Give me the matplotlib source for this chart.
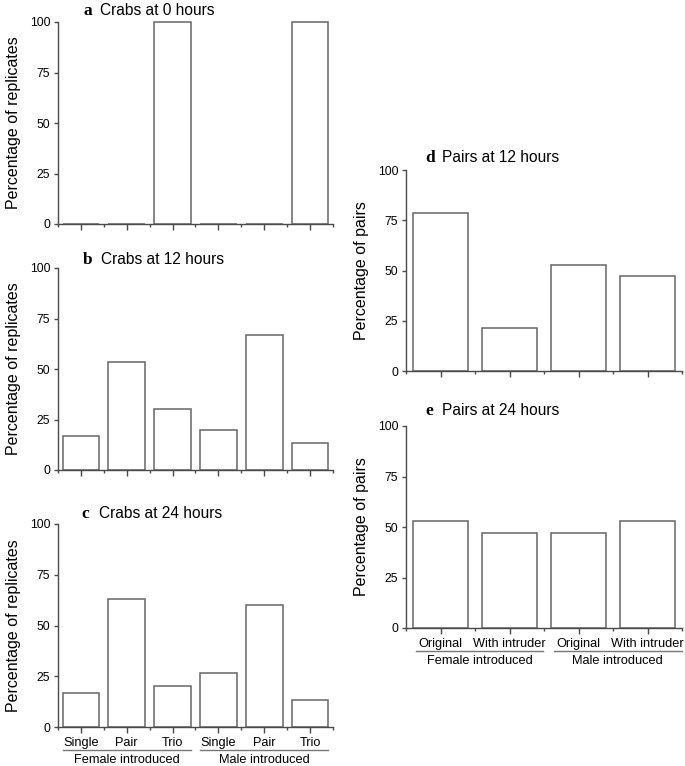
import matplotlib
matplotlib.use("Agg")
import matplotlib.pyplot as plt
from matplotlib.ticker import FixedLocator

plt.rcParams['font.family'] = ['Liberation Sans', 'DejaVu Sans']

# ---- data ----
crab_cats = ["Single", "Pair", "Trio", "Single", "Pair", "Trio"]
pair_cats = ["Original", "With intruder", "Original", "With intruder"]
groups = ["Female introduced", "Male introduced"]
crabs_0h = [0, 0, 100, 0, 0, 100]
crabs_12h = [16.7, 53.3, 30.0, 20.0, 66.7, 13.3]
crabs_24h = [16.7, 63.3, 20.0, 26.7, 60.0, 13.3]
pairs_12h = [78.5, 21.5, 52.5, 47.5]
pairs_24h = [53.0, 47.0, 47.0, 53.0]
yticks = [0, 25, 50, 75, 100]

W, H = 685, 766
fig = plt.figure(figsize=(W / 100, H / 100), dpi=100)

def px_axes(left, top, right, bottom):
    return fig.add_axes([left / W, (H - bottom) / H, (right - left) / W, (bottom - top) / H])

SPINE = '#4a4a4a'
EDGE = '#666666'

def style(ax, values, ylabel, show_labels, cats):
    n = len(values)
    x = list(range(n))
    ax.bar(x, values, width=0.8, color='white', edgecolor=EDGE, linewidth=1.1,
           clip_on=False, zorder=3)
    ax.set_xlim(-0.5, n - 0.5)
    ax.set_ylim(0, 100)
    ax.set_yticks(yticks)
    ax.set_yticklabels([str(t) for t in yticks], fontsize=8.8)
    for s in ['top', 'right']:
        ax.spines[s].set_visible(False)
    for s in ['left', 'bottom']:
        ax.spines[s].set_color(SPINE)
        ax.spines[s].set_linewidth(1.0)
        ax.spines[s].set_zorder(4)
    ax.tick_params(axis='y', length=3, width=1.0, color=SPINE, pad=2.5)
    ax.set_xticks(x)
    ax.xaxis.set_minor_locator(FixedLocator([i + 0.5 for i in range(-1, n)]))
    ax.tick_params(axis='x', which='major', length=4.5, width=1.0, color=SPINE, pad=2.5)
    ax.tick_params(axis='x', which='minor', length=2.2, width=1.0, color=SPINE)
    if show_labels:
        ax.set_xticklabels(cats, fontsize=9.2)
    else:
        ax.set_xticklabels([])
    ax.set_ylabel(ylabel, fontsize=11.5)
    ax.yaxis.set_label_coords(-37 / (ax.get_position().width * W), 0.5)

def groupline(ax, spans, ypx_line, ypx_text):
    h = ax.get_position().height * H
    for (a, b), name in zip(spans, groups):
        ax.plot([a, b], [-ypx_line / h * 100] * 2, color='#777777', lw=1.0,
                clip_on=False)
        ax.text((a + b) / 2, -ypx_text / h * 100, name, ha='center', va='center',
                fontsize=9.2)

def title(letter, text, xl, xt, yb):
    fig.text(xl / W, (H - yb) / H, letter, family=['Liberation Serif', 'DejaVu Serif'],
             weight='bold', fontsize=12.5, ha='left', va='baseline')
    fig.text(xt / W, (H - yb) / H, text, fontsize=11.2, ha='left', va='baseline')

ax_a = px_axes(58, 22, 333, 224)
style(ax_a, crabs_0h, "Percentage of replicates", False, crab_cats)
ax_b = px_axes(58, 268, 333, 470)
style(ax_b, crabs_12h, "Percentage of replicates", False, crab_cats)
ax_c = px_axes(58, 524, 333, 727)
style(ax_c, crabs_24h, "Percentage of replicates", True, crab_cats)
groupline(ax_c, [(-0.4, 2.4), (2.6, 5.4)], 23, 33)

ax_d = px_axes(406, 170, 682, 371)
style(ax_d, pairs_12h, "Percentage of pairs", False, pair_cats)
ax_e = px_axes(406, 426, 682, 628)
style(ax_e, pairs_24h, "Percentage of pairs", True, pair_cats)
groupline(ax_e, [(-0.36, 1.49), (1.64, 3.5)], 23, 33)

title("a", "Crabs at 0 hours", 83, 100, 15)
title("b", "Crabs at 12 hours", 83, 101, 264)
title("c", "Crabs at 24 hours", 81, 99, 518)
title("d", "Pairs at 12 hours", 425, 442, 162)
title("e", "Pairs at 24 hours", 425, 442, 415)

fig.savefig("out.png", dpi=100, facecolor='white')
